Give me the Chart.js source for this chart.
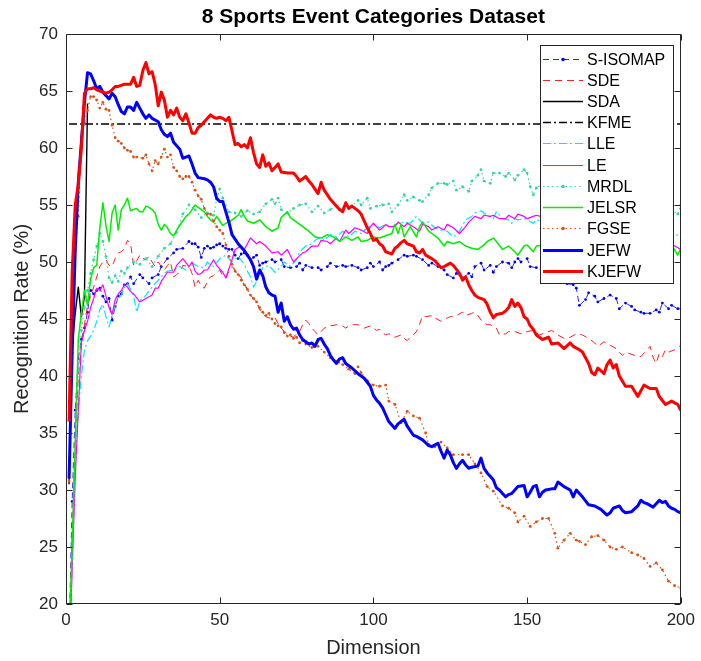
<!DOCTYPE html>
<html>
<head>
<meta charset="utf-8">
<title>8 Sports Event Categories Dataset</title>
<script src="https://cdn.jsdelivr.net/npm/chart.js@4.4.1/dist/chart.umd.min.js"></script>
<style>
  html, body { margin: 0; padding: 0; background: #ffffff; }
  canvas { display: block; }
</style>
</head>
<body>
<canvas id="chart" width="701" height="661"></canvas>
<script>
// Recognition rate (%) against the reduced dimension, one pair of arrays per method.
const chartTitle = '8 Sports Event Categories Dataset';
const xTicks = [0, 50, 100, 150, 200];
const yTicks = [20, 25, 30, 35, 40, 45, 50, 55, 60, 65, 70];

const sisomapDim = [1,2,3,4,5,6,7,8,9,10,11,12,13,14,15,16,17,18,19,20,21,22,24,25,27,28,30,31,33,35,36,38,40,41,42,43,44,45,46,47,48,49,50,51,52,53,54,55,56,57,58,59,60,61,62,63,64,65,67,68,70,71,73,75,76,77,78,80,82,83,85,86,88,90,91,93,95,96,98,99,100,102,103,104,105,106,108,110,111,113,114,116,118,119,121,123,124,126,127,129,131,132,133,135,136,138,139,140,142,144,145,146,147,148,150,151,153,155,157,159,161,163,165,166,167,169,170,172,173,175,177,179,180,182,184,185,187,188,190,192,193,194,196,197,199,200];
const sisomapRate = [17,29,37,41.5,43.2,44.2,45.6,47.5,47.2,47.5,47.7,47,46.5,46.8,44.9,46.1,47,47.2,48,48.1,48.7,48.1,48.9,48.6,48.1,48.6,48.9,49.6,50.3,50.8,51.1,51.2,51.8,51.6,51.6,51.3,50.4,51.2,51.4,51.2,51.3,51.5,51.6,51.4,51.2,51.1,51.1,50.6,50.3,50.7,50.8,50.6,50.2,50.4,50.6,49.7,49.9,50,50.2,50,50.2,49.6,49.5,49.6,49.9,49.3,49.7,49.5,49.5,49.3,49.6,49.9,49.6,49.7,49.6,49.7,49.5,49.3,49.5,49.9,49.6,50,49.3,49.6,49.7,49.9,50.2,50.6,50.5,50.6,50.5,50.2,49.7,49.9,49.6,49.3,48.9,48.6,49,48.6,49,48.7,49.6,49.9,49.3,49.7,49.1,49.6,50,49.9,49.5,50,50.3,50,50.3,49.6,49.5,49.2,49,48.7,48.2,48.1,48,47.7,46.2,46.7,47.3,47,46.5,46.8,47.1,46.8,45.9,46.4,46.1,45.8,45.6,45.5,45.5,45.8,45.6,46.4,45.9,46.2,45.9,45.9];

const sdeDim = [1,2,3,4,5,6,7,8,9,10,11,12,13,14,15,16,17,18,19,20,21,22,23,24,25,26,27,28,29,30,31,32,33,34,35,36,37,38,40,41,42,43,44,45,46,47,48,50,51,52,53,54,55,56,57,58,59,60,61,62,63,64,65,66,68,69,70,71,72,73,74,75,76,77,78,79,80,81,82,83,84,86,88,90,91,92,93,95,96,97,99,101,102,103,104,105,106,107,108,109,110,111,112,113,114,115,116,117,119,120,122,124,125,127,129,130,132,133,134,135,137,138,140,141,143,144,146,148,150,152,154,156,158,160,162,164,166,168,170,172,173,175,177,179,181,182,185,187,188,190,191,192,193,194,195,196,198,200];
const sdeRate = [17,26,34,40,42.5,44.5,46.2,47,47.8,48.7,49.6,50,50.2,49.7,49.6,50.3,50.8,50.9,51.2,51.9,51.6,49.7,50.1,50.6,50.3,50.2,50.5,50,49.6,50,49.6,49.3,49.7,50,48.7,48.9,49.1,49.7,49.6,49,47.8,48.4,47.9,47.7,48.3,48.7,48.8,49.3,48.8,48.6,49.2,49.6,49.3,49,48.6,48.1,47.6,47.1,46.8,46.5,45.8,45.5,45.2,45.1,45.1,44.6,44.2,43.9,43.7,43.5,43.4,43.7,43.9,44.5,44.9,44.6,44.2,43.9,43.6,43.9,44.2,44.4,44.5,44.4,44.2,44.4,44.5,44.5,44.3,44.2,44.4,44,44.1,43.8,43.6,43.7,43.6,43.4,43.5,43.6,43.3,43.1,43.4,43.6,43.9,44.5,45.3,45.2,45.3,45.1,44.8,45.1,45.2,45.3,45.6,45.3,45.5,45.6,45.3,44.9,44.5,44.5,44.2,43.6,43.7,43.9,43.9,43.7,43.9,44,43.6,43.8,44,43.6,43.3,43.4,43.7,43.6,43.3,42.9,42.6,43,42.7,42.4,41.8,42.1,41.8,41.7,42,42.6,41.6,41.1,42,41.7,42.3,42.1,42.3,42.7];

const sdaDim = [1,2,3,4,5,6,7];
const sdaRate = [30.5,42.5,45.5,47.8,45.2,47,63.9];

const kfmeDim = [1,200];
const kfmeRate = [62.1,62.1];

const lleDim = [1,2,3,4,5,6,7,8,9,10,11,12,13,14,15,16,17,18,19,20,21,22,23,24,25,26,28,30,32,33,35,37,39,41,43,45,46,47,48,50,52,54,56,58,59,60,61,62,63,64,66,68,70,71,73,75,76,78,80,81,83,84,86,88,90,92,94,96,98,100,102,104,106,108,110,112,114,116,118,120,122,124,126,128,130,132,133,135,137,139,140,142,144,145,146,147,149,150,152,153,156,160,164,168,172,176,180,184,188,192,196,198,200];
const lleRate = [15,24,32,37,40,42.3,43.1,43.5,44,44.8,45.8,46.3,45.2,44.3,45.3,46.2,46.8,47.1,47.8,48.1,47.6,47,45.6,46.6,46.8,47.1,47.8,48.4,49,49.2,49.3,49.6,49.3,49.9,49.6,49.5,50,49.7,49.6,50.3,50.6,50,50.5,49.8,49.2,48.7,47.8,48.3,48.9,49.5,49.7,49.1,49.6,50,49.6,50.2,50.9,51.4,51.6,51.9,52.2,51.9,52.4,52.2,52.7,52.2,52.7,52.5,53,53.3,53,53.3,53.1,53.4,53.5,53.4,54,53.4,53.5,53,52.8,52.7,52.2,52.7,53.7,54,54.3,54.5,54.1,53.8,54.4,53.8,53.7,53.4,53.8,53.7,53.8,53.7,53.4,53.7,53.5,53.8,53.4,53.6,53.3,53.5,53.2,53,53.3,52.9,52.6,52.4,52.3];

const leDim = [1,2,3,4,5,6,7,8,9,10,11,12,13,14,15,16,17,18,19,20,21,22,24,26,28,29,30,31,33,35,36,38,40,41,42,43,44,45,46,48,49,51,52,54,55,57,58,60,62,63,65,67,69,70,72,74,75,77,78,80,82,83,85,86,88,89,91,92,94,96,98,99,100,102,103,104,105,107,108,110,111,113,115,116,118,119,121,123,124,126,128,130,131,133,135,136,138,139,141,143,144,146,147,149,150,152,153,157,161,165,169,173,177,181,185,189,193,196,198,200];
const leRate = [14,23,31,37,42.9,44,44.8,46,46.8,47.7,47.5,48,47,46,45.4,46.7,47.2,47.5,48,47.8,47.4,47.2,46.5,46.8,47.1,47.7,47.7,48.3,49.1,49.1,49.7,50.3,49.6,50,49.2,48.9,49,49.3,49.3,50.2,49.7,49.1,48.6,50.2,51.1,51.4,51.1,52.1,51.6,51.8,51.4,50.8,50.9,50.6,51.1,50,50.3,50.8,50.9,51.4,51.4,51.9,51.8,51.6,52.1,51.8,52.8,52.5,53,52.8,52.5,53.1,53.4,52.8,53,53.3,53.1,53.1,53.5,53.1,53.4,53.1,52.7,53.3,53.1,52.8,53.1,52.8,53.3,53,52.5,53.1,53.5,54,53.8,54.1,54,54.1,53.8,53.8,54.1,53.8,54.2,54,53.8,54,54.1,53.8,53.6,53.3,53,52.8,52.5,52.4,52,51.8,51.5,51.7,51.4,51.1];

const mrdlDim = [1,2,3,4,5,6,7,8,9,10,11,12,13,14,15,16,17,18,19,20,22,24,26,28,30,32,34,36,38,40,42,44,46,48,49,50,51,53,55,57,59,61,63,65,67,68,69,70,72,74,76,78,80,82,84,86,88,89,91,93,95,96,98,99,101,103,105,106,108,110,111,113,115,116,118,119,121,123,124,126,127,129,131,132,134,135,136,138,139,141,143,144,146,147,149,150,151,152,153,156,160,164,168,172,176,180,184,188,192,195,197,199,200];
const mrdlRate = [15,24,33,40.5,44,46,47.5,49,50.2,51.4,52.5,51.8,50.5,48.6,48.2,48.8,48.3,49.2,49,49.5,50,49.8,50.3,49.6,50.5,51.2,51.6,52.6,54.2,55,54.6,53.9,54.3,54.1,55.5,56.4,55.6,54.4,54.3,54,54.5,54.2,54.4,55.1,55.5,55.1,55.6,54.6,54.3,54.7,55,55.1,54.4,54.9,54.3,54.6,54.9,54.6,55,54.9,55.4,55,55.6,54.7,54.9,55,55.1,54.4,55,55.9,55.4,55.7,55.4,55.3,55.9,56.5,56.9,56.9,56.8,57.1,56.3,56.6,56.2,57.1,57.6,58.1,57.1,56.9,57.8,57.8,57.5,57.8,57.2,57.6,58.1,57.8,56.6,55.9,56.5,57,56.6,56.9,56.3,56.5,56,56.2,55.7,55.9,55.4,55.6,54.6,54.2,55];

const jelsrDim = [1,2,3,4,5,6,7,8,9,10,11,12,13,14,15,16,17,18,19,20,21,22,23,24,25,26,27,28,29,30,31,32,33,34,35,36,37,38,39,40,41,42,43,44,45,46,47,48,49,50,51,52,53,54,55,56,57,58,59,61,63,65,67,69,70,72,73,75,77,79,81,83,85,87,89,91,93,95,96,98,100,102,104,106,107,108,109,110,112,114,115,116,118,119,121,123,124,126,128,130,132,134,136,137,139,140,142,144,146,147,149,150,152,153,156,160,164,168,172,176,180,184,188,192,195,197,199,200];
const jelsrRate = [16.5,25.3,34.2,43.2,45.5,47.5,46.2,48.5,49.5,49.7,53,55.2,53.2,51.8,54.3,55,52.8,54.6,55,55.6,54.5,54.6,54.7,54.4,54.4,54.9,54.8,54.6,54.3,53.3,52.8,53.3,53,52.5,52.3,52.8,53.2,53.6,54,54.2,54.6,55,54.8,54.6,54.4,54,53.7,53.5,54,53.6,53.2,53.4,53.5,53.7,53.9,54.1,54.6,54,53.6,53.4,53.7,53.1,52.7,53,53.9,54.4,53.9,53.5,53.1,52.7,52.2,52.1,52.4,52.2,51.8,52.2,51.9,52.2,51.8,51.9,52.2,52.1,52.3,52.5,53.3,52.5,53.3,52.2,53.1,52.2,53.1,53.5,52.7,52.5,52.1,51.4,51.8,51.6,51.8,51.4,51.2,51.1,51.5,51.8,52.1,51.8,51.1,51.4,50.9,50.6,51.4,51.5,50.9,51.4,51.5,51.2,51.6,51.1,51.4,50.9,51.2,51.5,51,51.3,50.8,51.5,50.6,51.2];

const fgseDim = [1,2,3,4,5,6,7,8,9,10,11,12,13,14,15,16,17,18,19,20,21,22,23,25,26,27,28,29,30,31,32,33,34,35,36,37,38,39,40,41,42,43,44,45,46,47,48,49,50,51,52,53,54,55,56,57,58,59,60,61,62,63,64,65,66,67,68,69,70,71,72,73,74,75,76,77,78,80,82,84,86,88,90,92,94,95,96,98,100,102,104,105,107,109,111,113,115,117,118,120,122,124,126,129,131,133,135,137,139,142,144,146,147,149,151,153,155,157,159,160,162,164,166,167,169,171,173,175,177,179,181,184,186,188,190,192,194,196,198,200];
const fgseRate = [30.8,42,51,54,61,62.2,63.3,64.5,64.5,64.2,63.5,64,63.4,63.3,62,60.9,60.6,60.4,60,59.8,59.7,59.2,59.2,59.1,59.4,58.6,58,58.9,58.6,59.2,59.9,59.2,59.4,58.3,58,57.5,57.3,57.5,57.5,57,56.3,55.8,55.5,54.7,54.2,54.2,53.6,53.1,52.8,52.5,51.5,50.5,49.8,49.2,48.9,48.4,48,47.6,47.1,46.8,46.5,46,45.6,45.3,45.5,45,44.6,44.4,44.3,43.8,43.5,43.6,43.3,43.4,42.9,43.1,42.8,42.5,42.6,42.1,41.6,41.3,41,40.6,40.2,40.8,40.3,39.6,39.2,39.1,39.2,37.8,37.5,35.9,36.9,36.5,36.3,35,34,33.8,34.2,33.7,33.1,33.1,33.1,32.3,31.5,30.3,29.9,28.6,28.4,28,27.2,27.7,26.8,27.2,27.5,27.5,26.2,24.9,25.6,26.2,25.6,25.5,25.2,25.9,26,25.6,25,24.8,25,24.5,24.3,24,23.3,23.6,23,22,21.6,21.4];

const jefwDim = [1,2,3,4,5,6,7,8,9,10,11,12,14,15,16,17,18,19,20,21,22,23,24,25,26,27,28,30,31,32,33,34,35,37,38,39,40,41,42,43,45,46,47,48,49,50,51,52,53,54,55,56,57,58,59,60,61,62,63,64,65,66,67,68,69,70,71,72,73,74,75,76,77,78,79,80,81,82,83,84,85,86,87,88,89,90,91,93,95,97,99,100,101,102,103,104,105,107,108,109,110,111,113,114,116,118,119,121,122,123,124,125,126,127,128,129,130,131,132,134,135,136,137,138,139,140,141,142,143,144,145,147,149,150,151,152,153,154,155,156,158,159,160,161,162,164,165,166,167,168,170,172,174,176,177,178,180,181,182,184,186,187,188,189,191,192,193,194,195,196,197,198,199,200];
const jefwRate = [31,42,51,57,60.5,64,66.6,66.5,65.9,65.2,65.4,64.9,64.3,64.8,64.5,63.8,63.2,63,63.6,63.6,63.3,64,63.5,63,62.6,62.9,62.6,62.3,61.6,61.2,61,61.3,60.5,59.9,59.1,59.2,59.3,58.6,57.8,57.4,57.3,57.2,57,56.6,55.6,55.3,55.3,54.4,53.5,52.4,52,51.6,51.3,51,50.6,50.2,49.6,48.5,49.3,48.8,47.8,47.3,47.1,47,45.6,46.4,44.8,45.2,44.5,44.1,44.2,43.6,43.2,43,42.8,42.9,42.6,43.2,43.3,42.8,42.4,41.8,41.4,41.1,41.5,41.6,41.1,40.7,40.2,39.8,39.1,38.3,37.9,37.6,37.2,36.6,36,35.4,35.8,36,36.2,35.6,34.8,34.7,34.4,33.9,33.8,34.1,33.4,32.8,33.5,33.1,32.4,31.9,32.3,32.6,32.2,31.9,32,32.1,32.8,31.9,31.5,31.2,30.9,30.2,30,29.7,29.4,29.6,29.7,30.3,30.4,29.4,29.8,30.3,30.4,29.4,29.8,30,30.1,30.1,30.7,30.5,30.3,30,29.4,30,29.7,29.4,28.7,28.6,28.3,27.8,28,28.4,28.6,28.2,28,28.1,28.6,29.1,28.9,28.8,28.5,28.8,29.1,28.9,29,28.6,28.4,28.3,28.1,28];

const kjefwDim = [1,2,3,4,5,6,7,8,9,10,11,12,13,14,15,16,17,18,19,20,21,22,23,24,25,26,27,28,29,30,31,32,33,34,35,36,37,38,39,40,41,42,43,44,45,46,47,48,49,50,51,52,53,54,55,56,57,58,59,60,61,62,63,64,65,66,67,68,69,70,72,74,75,76,78,79,80,81,82,83,84,86,87,88,89,90,91,92,93,94,95,96,97,98,99,100,101,102,103,104,105,106,107,108,109,110,111,113,114,115,116,117,119,120,121,122,123,125,126,128,129,130,131,132,133,134,136,137,138,139,140,142,143,144,145,146,147,148,149,150,151,152,153,155,157,158,160,162,164,165,167,168,170,171,172,173,175,176,177,178,179,180,182,184,186,188,190,192,193,195,197,199,200];
const kjefwRate = [36,49,55,56.8,60,64.8,65.2,65.2,65.3,65.1,65,64.9,64.8,64.9,65.1,65.4,65.4,65.5,65.6,65.6,65.6,66.2,65.4,65.5,66.8,67.5,66.5,66.7,65.6,63.7,64.9,64.2,62.7,63.3,62.9,63.5,62.7,62.4,63,62.2,61.3,61.3,61.8,62,62.3,62.6,62.9,62.7,62.6,62.7,62.6,62.4,62.7,61.5,60.3,60.4,60.1,60.3,60,60.9,59.6,58.6,58.3,59.4,58.4,58.7,58,58.3,58.6,57.9,57.8,57.8,57.5,57.1,57.5,57.1,56.8,56.4,56,57,56.3,55.5,55.2,54.9,54.6,54.4,55.2,54.7,54.9,54.7,54.5,54.2,53.6,53,52.5,51.9,52,51.6,51.4,50.9,50.8,50.7,51.2,51.4,51.7,51.9,51.6,51.4,50.9,50.8,51.1,50.6,50.3,50.1,49.8,49.5,49.6,49.9,49.7,49,48.4,48.7,48,47.5,47.1,46.9,46.7,46.3,45.6,45.1,45.4,45.5,45.7,46,46.7,46.1,46.4,46,45.2,45,44.4,44.1,43.6,43.2,43.4,42.8,42.9,42.4,42.9,42.6,42.3,42.1,41.1,40.3,40.1,40.7,40.2,41,41.4,40.7,41,40,39.1,39.1,38.2,39.2,38.9,38.9,38.2,37.5,37.8,37.5,37];

const methods = ['S-ISOMAP', 'SDE', 'SDA', 'KFME', 'LLE', 'LE', 'MRDL', 'JELSR', 'FGSE', 'JEFW', 'KJEFW'];

function points(dims, rates) {
  return dims.map((d, i) => ({ x: d, y: rates[i] }));
}

function series(label, dims, rates, style) {
  return Object.assign({
    label: label,
    data: points(dims, rates),
    fill: false,
    tension: 0,
    pointRadius: 0,
    pointHoverRadius: 0,
    pointBorderWidth: 0,
    borderCapStyle: 'butt',
    borderJoinStyle: 'round'
  }, style);
}

const datasets = [
  series(methods[0], sisomapDim, sisomapRate, { borderColor: '#2a2aff', borderWidth: 1, borderDash: [6, 4], pointRadius: 1.4, pointBackgroundColor: '#0000ff' }),
  series(methods[1], sdeDim, sdeRate, { borderColor: '#ff2020', borderWidth: 1, borderDash: [7, 5] }),
  series(methods[2], sdaDim, sdaRate, { borderColor: '#000000', borderWidth: 1.4 }),
  series(methods[3], kfmeDim, kfmeRate, { borderColor: '#000000', borderWidth: 1.4, borderDash: [8, 3, 2, 3] }),
  series(methods[4], lleDim, lleRate, { borderColor: '#00e5ff', borderWidth: 1.2, borderDash: [8, 3, 2, 3] }),
  series(methods[5], leDim, leRate, { borderColor: '#ff00ff', borderWidth: 1.2 }),
  series(methods[6], mrdlDim, mrdlRate, { borderColor: '#33d6a8', borderWidth: 1.2, borderDash: [1.5, 3], pointRadius: 1.4, pointBackgroundColor: '#33d6a8' }),
  series(methods[7], jelsrDim, jelsrRate, { borderColor: '#00ee00', borderWidth: 1.5 }),
  series(methods[8], fgseDim, fgseRate, { borderColor: '#d95319', borderWidth: 1.2, borderDash: [1.5, 3], pointRadius: 1.4, pointBackgroundColor: '#d95319' }),
  series(methods[9], jefwDim, jefwRate, { borderColor: '#0000ff', borderWidth: 3 }),
  series(methods[10], kjefwDim, kjefwRate, { borderColor: '#ff0000', borderWidth: 3 })
];
// Later methods are painted on top of earlier ones.
datasets.forEach((ds, i) => { ds.order = datasets.length - i; });

const axisColor = '#262626';
const fontFamily = '"Liberation Sans", Arial, sans-serif';
const tickFont = { family: fontFamily, size: 17 };
const labelFont = { family: fontFamily, size: 20 };

// Title over the axes, box around the plot, inward tick marks on all four sides,
// and an opaque legend box in the upper right corner.
const framePlugin = {
  id: 'frame',
  afterDatasetsDraw(chart) {
    const { ctx, chartArea: a, scales } = chart;
    const L = Math.round(a.left) + 0.5, R = Math.round(a.right) - 0.5;
    const T = Math.round(a.top) + 0.5, B = Math.round(a.bottom) - 0.5;
    const tl = 6;
    ctx.save();
    // legend
    const lg = { left: 540.5, top: 45.5, right: 673.5, bottom: 283.5 };
    ctx.fillStyle = '#ffffff';
    ctx.fillRect(lg.left, lg.top, lg.right - lg.left, lg.bottom - lg.top);
    ctx.strokeStyle = axisColor;
    ctx.lineWidth = 1;
    ctx.setLineDash([]);
    ctx.strokeRect(lg.left, lg.top, lg.right - lg.left, lg.bottom - lg.top);
    const rowH = 21.24;
    ctx.font = '16px ' + fontFamily;
    ctx.textBaseline = 'middle';
    ctx.textAlign = 'left';
    chart.data.datasets.forEach((ds, i) => {
      const y = Math.round(58.5 + i * rowH) + 0.5;
      ctx.save();
      ctx.strokeStyle = ds.borderColor;
      ctx.lineWidth = ds.borderWidth;
      ctx.setLineDash(ds.borderDash || []);
      ctx.beginPath();
      ctx.moveTo(543, y);
      ctx.lineTo(583, y);
      ctx.stroke();
      if (ds.pointRadius > 0) {
        ctx.setLineDash([]);
        ctx.fillStyle = ds.pointBackgroundColor;
        ctx.beginPath();
        ctx.arc(563, y, ds.pointRadius + 0.4, 0, Math.PI * 2);
        ctx.fill();
      }
      ctx.restore();
      ctx.fillStyle = '#000000';
      ctx.fillText(ds.label, 587, y + 1);
    });
    // axes box
    ctx.strokeStyle = axisColor;
    ctx.lineWidth = 1;
    ctx.setLineDash([]);
    ctx.strokeRect(L, T, R - L, B - T);
    ctx.beginPath();
    xTicks.forEach(v => {
      const px = Math.round(scales.x.getPixelForValue(v)) + 0.5;
      ctx.moveTo(px, B); ctx.lineTo(px, B - tl);
      ctx.moveTo(px, T); ctx.lineTo(px, T + tl);
    });
    yTicks.forEach(v => {
      const py = Math.round(scales.y.getPixelForValue(v)) + 0.5;
      ctx.moveTo(L, py); ctx.lineTo(L + tl, py);
      ctx.moveTo(R, py); ctx.lineTo(R - tl, py);
    });
    ctx.stroke();
    // title, centred over the axes
    ctx.fillStyle = '#000000';
    ctx.font = 'bold 21px ' + fontFamily;
    ctx.textAlign = 'center';
    ctx.textBaseline = 'middle';
    ctx.fillText(chartTitle, (a.left + a.right) / 2, 17);
    ctx.restore();
  }
};

new Chart(document.getElementById('chart').getContext('2d'), {
  type: 'line',
  data: { datasets: datasets },
  options: {
    responsive: false,
    animation: false,
    events: [],
    layout: { padding: { left: 0, right: 17, top: 34, bottom: 0 } },
    scales: {
      x: {
        type: 'linear',
        min: 0,
        max: 200,
        afterBuildTicks: s => { s.ticks = xTicks.map(v => ({ value: v })); },
        afterFit: s => { s.height = 57; },
        grid: { display: false, drawTicks: false },
        border: { display: false },
        ticks: { color: axisColor, font: tickFont, padding: 6, maxRotation: 0 },
        title: { display: true, text: 'Dimension', color: axisColor, font: labelFont, padding: { top: 0, bottom: 1 } }
      },
      y: {
        type: 'linear',
        min: 20,
        max: 70,
        afterBuildTicks: s => { s.ticks = yTicks.map(v => ({ value: v })); },
        afterFit: s => { s.width = 66; },
        grid: { display: false, drawTicks: false },
        border: { display: false },
        ticks: { color: axisColor, font: tickFont, padding: 8 },
        title: { display: true, text: 'Recognition Rate (%)', color: axisColor, font: labelFont, padding: { top: 10, bottom: 0 } }
      }
    },
    plugins: {
      legend: { display: false },
      tooltip: { enabled: false },
      title: { display: false }
    }
  },
  plugins: [framePlugin]
});
</script>
</body>
</html>
